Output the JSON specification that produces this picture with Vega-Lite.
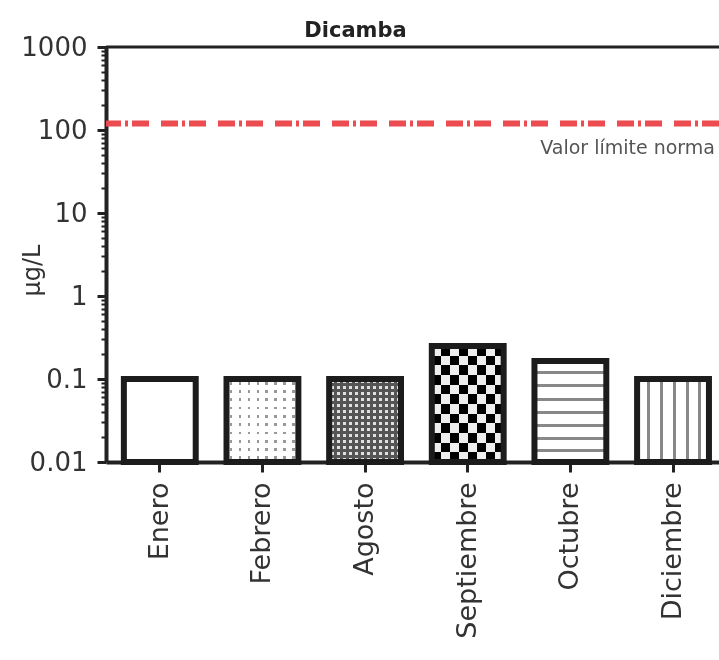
{
  "$schema": "https://vega.github.io/schema/vega-lite/v6.json",
  "width": 613,
  "height": 415,
  "autosize": {"type": "none"},
  "padding": {"left": 106, "top": 47, "right": 0, "bottom": 198},
  "background": "white",
  "config": {"view": {"stroke": null}},
  "title": {"text": "Dicamba", "font": "DejaVu Sans", "fontSize": 21, "fontWeight": "bold", "color": "#222", "anchor": "middle", "dx": -57, "offset": -7},
  "layer": [
    {
      "data": {"values": [
        {"mes": "Enero", "valor": 0.1},
        {"mes": "Febrero", "valor": 0.1},
        {"mes": "Agosto", "valor": 0.1},
        {"mes": "Septiembre", "valor": 0.25},
        {"mes": "Octubre", "valor": 0.165},
        {"mes": "Diciembre", "valor": 0.1}
      ]},
      "encoding": {
        "x": {"field": "mes", "type": "nominal", "sort": ["Enero", "Febrero", "Agosto", "Septiembre", "Octubre", "Diciembre"], "title": null,
          "scale": {"paddingInner": 0.3, "paddingOuter": 0.136, "align": 0.64},
          "axis": {"labelAngle": -90, "labelFont": "DejaVu Sans", "labelFontSize": 27, "labelColor": "#333", "labelPadding": 10, "tickSize": 10, "tickWidth": 3, "tickColor": "#222", "domainWidth": 4, "domainColor": "#222", "grid": false}},
        "y": {"field": "valor", "type": "quantitative", "title": "µg/L",
          "scale": {"type": "log", "domain": [0.01, 1000], "nice": false},
          "axis": {"tickCount": 50, "grid": false, "labelOverlap": false, "labelBound": false, "labelFlush": false,
            "labelExpr": "abs(log(datum.value)/LN10 - round(log(datum.value)/LN10)) < 0.000001 ? format(datum.value, '~g') : ''",
            "labelFont": "DejaVu Sans", "labelFontSize": 26, "labelColor": "#333", "labelPadding": 10,
            "tickSize": {"condition": {"test": "abs(log(datum.value)/LN10 - round(log(datum.value)/LN10)) < 0.000001", "value": 9}, "value": 5},
            "tickWidth": {"condition": {"test": "abs(log(datum.value)/LN10 - round(log(datum.value)/LN10)) < 0.000001", "value": 3}, "value": 2},
            "tickColor": "#222", "domainWidth": 4, "domainColor": "#222",
            "titleFont": "DejaVu Sans", "titleFontSize": 24, "titleFontWeight": "normal", "titleColor": "#333",
            "titleX": -74, "titleY": 223, "titleAngle": -90, "titleAlign": "center", "titleBaseline": "middle"}},
        "y2": {"datum": 0.01}
      },
      "layer": [
        {"mark": {"type": "bar", "fill": "white"}},
        {"transform": [{"filter": "datum.mes === 'Febrero'"}],
         "mark": {"type": "bar", "fill": {"gradient": "linear", "x1": 0, "y1": 0, "x2": 1, "y2": 0, "stops": [
           {"offset": 0, "color": "#fff"},
           {"offset": 0.0425, "color": "#fff"}, {"offset": 0.0425, "color": "#999"}, {"offset": 0.0825, "color": "#999"}, {"offset": 0.0825, "color": "#fff"},
           {"offset": 0.1675, "color": "#fff"}, {"offset": 0.1675, "color": "#999"}, {"offset": 0.2075, "color": "#999"}, {"offset": 0.2075, "color": "#fff"},
           {"offset": 0.2925, "color": "#fff"}, {"offset": 0.2925, "color": "#999"}, {"offset": 0.3325, "color": "#999"}, {"offset": 0.3325, "color": "#fff"},
           {"offset": 0.4175, "color": "#fff"}, {"offset": 0.4175, "color": "#999"}, {"offset": 0.4575, "color": "#999"}, {"offset": 0.4575, "color": "#fff"},
           {"offset": 0.5425, "color": "#fff"}, {"offset": 0.5425, "color": "#999"}, {"offset": 0.5825, "color": "#999"}, {"offset": 0.5825, "color": "#fff"},
           {"offset": 0.6675, "color": "#fff"}, {"offset": 0.6675, "color": "#999"}, {"offset": 0.7075, "color": "#999"}, {"offset": 0.7075, "color": "#fff"},
           {"offset": 0.7925, "color": "#fff"}, {"offset": 0.7925, "color": "#999"}, {"offset": 0.8325, "color": "#999"}, {"offset": 0.8325, "color": "#fff"},
           {"offset": 0.9175, "color": "#fff"}, {"offset": 0.9175, "color": "#999"}, {"offset": 0.9575, "color": "#999"}, {"offset": 0.9575, "color": "#fff"},
           {"offset": 1, "color": "#fff"}]}}},
        {"transform": [{"filter": "datum.mes === 'Febrero'"}],
         "mark": {"type": "bar", "blend": "lighten", "fill": {"gradient": "linear", "x1": 0, "y1": 0, "x2": 0, "y2": 1, "stops": [
           {"offset": 0, "color": "#fff"},
           {"offset": 0.033, "color": "#fff"}, {"offset": 0.033, "color": "#999"}, {"offset": 0.067, "color": "#999"}, {"offset": 0.067, "color": "#fff"},
           {"offset": 0.133, "color": "#fff"}, {"offset": 0.133, "color": "#999"}, {"offset": 0.167, "color": "#999"}, {"offset": 0.167, "color": "#fff"},
           {"offset": 0.233, "color": "#fff"}, {"offset": 0.233, "color": "#999"}, {"offset": 0.267, "color": "#999"}, {"offset": 0.267, "color": "#fff"},
           {"offset": 0.333, "color": "#fff"}, {"offset": 0.333, "color": "#999"}, {"offset": 0.367, "color": "#999"}, {"offset": 0.367, "color": "#fff"},
           {"offset": 0.433, "color": "#fff"}, {"offset": 0.433, "color": "#999"}, {"offset": 0.467, "color": "#999"}, {"offset": 0.467, "color": "#fff"},
           {"offset": 0.533, "color": "#fff"}, {"offset": 0.533, "color": "#999"}, {"offset": 0.567, "color": "#999"}, {"offset": 0.567, "color": "#fff"},
           {"offset": 0.633, "color": "#fff"}, {"offset": 0.633, "color": "#999"}, {"offset": 0.667, "color": "#999"}, {"offset": 0.667, "color": "#fff"},
           {"offset": 0.733, "color": "#fff"}, {"offset": 0.733, "color": "#999"}, {"offset": 0.767, "color": "#999"}, {"offset": 0.767, "color": "#fff"},
           {"offset": 0.833, "color": "#fff"}, {"offset": 0.833, "color": "#999"}, {"offset": 0.867, "color": "#999"}, {"offset": 0.867, "color": "#fff"},
           {"offset": 0.933, "color": "#fff"}, {"offset": 0.933, "color": "#999"}, {"offset": 0.967, "color": "#999"}, {"offset": 0.967, "color": "#fff"},
           {"offset": 1, "color": "#fff"}]}}},
        {"transform": [{"filter": "datum.mes === 'Agosto'"}],
         "mark": {"type": "bar", "fill": {"gradient": "linear", "x1": 0, "y1": 0, "x2": 1, "y2": 0, "stops": [
           {"offset": 0, "color": "#555"},
           {"offset": 0.0208, "color": "#555"}, {"offset": 0.0208, "color": "#e0e0e0"}, {"offset": 0.0625, "color": "#e0e0e0"}, {"offset": 0.0625, "color": "#555"},
           {"offset": 0.1042, "color": "#555"}, {"offset": 0.1042, "color": "#e0e0e0"}, {"offset": 0.1458, "color": "#e0e0e0"}, {"offset": 0.1458, "color": "#555"},
           {"offset": 0.1875, "color": "#555"}, {"offset": 0.1875, "color": "#e0e0e0"}, {"offset": 0.2292, "color": "#e0e0e0"}, {"offset": 0.2292, "color": "#555"},
           {"offset": 0.2708, "color": "#555"}, {"offset": 0.2708, "color": "#e0e0e0"}, {"offset": 0.3125, "color": "#e0e0e0"}, {"offset": 0.3125, "color": "#555"},
           {"offset": 0.3542, "color": "#555"}, {"offset": 0.3542, "color": "#e0e0e0"}, {"offset": 0.3958, "color": "#e0e0e0"}, {"offset": 0.3958, "color": "#555"},
           {"offset": 0.4375, "color": "#555"}, {"offset": 0.4375, "color": "#e0e0e0"}, {"offset": 0.4792, "color": "#e0e0e0"}, {"offset": 0.4792, "color": "#555"},
           {"offset": 0.5208, "color": "#555"}, {"offset": 0.5208, "color": "#e0e0e0"}, {"offset": 0.5625, "color": "#e0e0e0"}, {"offset": 0.5625, "color": "#555"},
           {"offset": 0.6042, "color": "#555"}, {"offset": 0.6042, "color": "#e0e0e0"}, {"offset": 0.6458, "color": "#e0e0e0"}, {"offset": 0.6458, "color": "#555"},
           {"offset": 0.6875, "color": "#555"}, {"offset": 0.6875, "color": "#e0e0e0"}, {"offset": 0.7292, "color": "#e0e0e0"}, {"offset": 0.7292, "color": "#555"},
           {"offset": 0.7708, "color": "#555"}, {"offset": 0.7708, "color": "#e0e0e0"}, {"offset": 0.8125, "color": "#e0e0e0"}, {"offset": 0.8125, "color": "#555"},
           {"offset": 0.8542, "color": "#555"}, {"offset": 0.8542, "color": "#e0e0e0"}, {"offset": 0.8958, "color": "#e0e0e0"}, {"offset": 0.8958, "color": "#555"},
           {"offset": 0.9375, "color": "#555"}, {"offset": 0.9375, "color": "#e0e0e0"}, {"offset": 0.9792, "color": "#e0e0e0"}, {"offset": 0.9792, "color": "#555"},
           {"offset": 1, "color": "#555"}]}}},
        {"transform": [{"filter": "datum.mes === 'Agosto'"}],
         "mark": {"type": "bar", "blend": "darken", "fill": {"gradient": "linear", "x1": 0, "y1": 0, "x2": 0, "y2": 1, "stops": [
           {"offset": 0, "color": "#555"},
           {"offset": 0.0179, "color": "#555"}, {"offset": 0.0179, "color": "#e0e0e0"}, {"offset": 0.0536, "color": "#e0e0e0"}, {"offset": 0.0536, "color": "#555"},
           {"offset": 0.0893, "color": "#555"}, {"offset": 0.0893, "color": "#e0e0e0"}, {"offset": 0.125, "color": "#e0e0e0"}, {"offset": 0.125, "color": "#555"},
           {"offset": 0.1607, "color": "#555"}, {"offset": 0.1607, "color": "#e0e0e0"}, {"offset": 0.1964, "color": "#e0e0e0"}, {"offset": 0.1964, "color": "#555"},
           {"offset": 0.2321, "color": "#555"}, {"offset": 0.2321, "color": "#e0e0e0"}, {"offset": 0.2679, "color": "#e0e0e0"}, {"offset": 0.2679, "color": "#555"},
           {"offset": 0.3036, "color": "#555"}, {"offset": 0.3036, "color": "#e0e0e0"}, {"offset": 0.3393, "color": "#e0e0e0"}, {"offset": 0.3393, "color": "#555"},
           {"offset": 0.375, "color": "#555"}, {"offset": 0.375, "color": "#e0e0e0"}, {"offset": 0.4107, "color": "#e0e0e0"}, {"offset": 0.4107, "color": "#555"},
           {"offset": 0.4464, "color": "#555"}, {"offset": 0.4464, "color": "#e0e0e0"}, {"offset": 0.4821, "color": "#e0e0e0"}, {"offset": 0.4821, "color": "#555"},
           {"offset": 0.5179, "color": "#555"}, {"offset": 0.5179, "color": "#e0e0e0"}, {"offset": 0.5536, "color": "#e0e0e0"}, {"offset": 0.5536, "color": "#555"},
           {"offset": 0.5893, "color": "#555"}, {"offset": 0.5893, "color": "#e0e0e0"}, {"offset": 0.625, "color": "#e0e0e0"}, {"offset": 0.625, "color": "#555"},
           {"offset": 0.6607, "color": "#555"}, {"offset": 0.6607, "color": "#e0e0e0"}, {"offset": 0.6964, "color": "#e0e0e0"}, {"offset": 0.6964, "color": "#555"},
           {"offset": 0.7321, "color": "#555"}, {"offset": 0.7321, "color": "#e0e0e0"}, {"offset": 0.7679, "color": "#e0e0e0"}, {"offset": 0.7679, "color": "#555"},
           {"offset": 0.8036, "color": "#555"}, {"offset": 0.8036, "color": "#e0e0e0"}, {"offset": 0.8393, "color": "#e0e0e0"}, {"offset": 0.8393, "color": "#555"},
           {"offset": 0.875, "color": "#555"}, {"offset": 0.875, "color": "#e0e0e0"}, {"offset": 0.9107, "color": "#e0e0e0"}, {"offset": 0.9107, "color": "#555"},
           {"offset": 0.9464, "color": "#555"}, {"offset": 0.9464, "color": "#e0e0e0"}, {"offset": 0.9821, "color": "#e0e0e0"}, {"offset": 0.9821, "color": "#555"},
           {"offset": 1, "color": "#555"}]}}},
        {"transform": [{"filter": "datum.mes === 'Septiembre'"}],
         "mark": {"type": "bar", "fill": {"gradient": "linear", "x1": 0, "y1": 0, "x2": 1, "y2": 0, "stops": [
           {"offset": 0, "color": "#111"}, {"offset": 0.125, "color": "#111"}, {"offset": 0.125, "color": "#fff"}, {"offset": 0.25, "color": "#fff"},
           {"offset": 0.25, "color": "#111"}, {"offset": 0.375, "color": "#111"}, {"offset": 0.375, "color": "#fff"}, {"offset": 0.5, "color": "#fff"},
           {"offset": 0.5, "color": "#111"}, {"offset": 0.625, "color": "#111"}, {"offset": 0.625, "color": "#fff"}, {"offset": 0.75, "color": "#fff"},
           {"offset": 0.75, "color": "#111"}, {"offset": 0.875, "color": "#111"}, {"offset": 0.875, "color": "#fff"}, {"offset": 1, "color": "#fff"}]}}},
        {"transform": [{"filter": "datum.mes === 'Septiembre'"}],
         "mark": {"type": "bar", "blend": "difference", "fill": {"gradient": "linear", "x1": 0, "y1": 0, "x2": 0, "y2": 1, "stops": [
           {"offset": 0, "color": "#fff"}, {"offset": 0.0833, "color": "#fff"}, {"offset": 0.0833, "color": "#111"}, {"offset": 0.1667, "color": "#111"},
           {"offset": 0.1667, "color": "#fff"}, {"offset": 0.25, "color": "#fff"}, {"offset": 0.25, "color": "#111"}, {"offset": 0.3333, "color": "#111"},
           {"offset": 0.3333, "color": "#fff"}, {"offset": 0.4167, "color": "#fff"}, {"offset": 0.4167, "color": "#111"}, {"offset": 0.5, "color": "#111"},
           {"offset": 0.5, "color": "#fff"}, {"offset": 0.5833, "color": "#fff"}, {"offset": 0.5833, "color": "#111"}, {"offset": 0.6667, "color": "#111"},
           {"offset": 0.6667, "color": "#fff"}, {"offset": 0.75, "color": "#fff"}, {"offset": 0.75, "color": "#111"}, {"offset": 0.8333, "color": "#111"},
           {"offset": 0.8333, "color": "#fff"}, {"offset": 0.9167, "color": "#fff"}, {"offset": 0.9167, "color": "#111"}, {"offset": 1, "color": "#111"}]}}},
        {"transform": [{"filter": "datum.mes === 'Octubre'"}],
         "mark": {"type": "bar", "fill": {"gradient": "linear", "x1": 0, "y1": 0, "x2": 0, "y2": 1, "stops": [
           {"offset": 0, "color": "#fff"},
           {"offset": 0.095, "color": "#fff"}, {"offset": 0.095, "color": "#888"}, {"offset": 0.125, "color": "#888"}, {"offset": 0.125, "color": "#fff"},
           {"offset": 0.23, "color": "#fff"}, {"offset": 0.23, "color": "#888"}, {"offset": 0.26, "color": "#888"}, {"offset": 0.26, "color": "#fff"},
           {"offset": 0.365, "color": "#fff"}, {"offset": 0.365, "color": "#888"}, {"offset": 0.395, "color": "#888"}, {"offset": 0.395, "color": "#fff"},
           {"offset": 0.495, "color": "#fff"}, {"offset": 0.495, "color": "#888"}, {"offset": 0.525, "color": "#888"}, {"offset": 0.525, "color": "#fff"},
           {"offset": 0.625, "color": "#fff"}, {"offset": 0.625, "color": "#888"}, {"offset": 0.655, "color": "#888"}, {"offset": 0.655, "color": "#fff"},
           {"offset": 0.755, "color": "#fff"}, {"offset": 0.755, "color": "#888"}, {"offset": 0.785, "color": "#888"}, {"offset": 0.785, "color": "#fff"},
           {"offset": 0.875, "color": "#fff"}, {"offset": 0.875, "color": "#888"}, {"offset": 0.905, "color": "#888"}, {"offset": 0.905, "color": "#fff"},
           {"offset": 1, "color": "#fff"}]}}},
        {"transform": [{"filter": "datum.mes === 'Diciembre'"}],
         "mark": {"type": "bar", "fill": {"gradient": "linear", "x1": 0, "y1": 0, "x2": 1, "y2": 0, "stops": [
           {"offset": 0, "color": "#fff"},
           {"offset": 0.14, "color": "#fff"}, {"offset": 0.14, "color": "#888"}, {"offset": 0.18, "color": "#888"}, {"offset": 0.18, "color": "#fff"},
           {"offset": 0.32, "color": "#fff"}, {"offset": 0.32, "color": "#888"}, {"offset": 0.36, "color": "#888"}, {"offset": 0.36, "color": "#fff"},
           {"offset": 0.5, "color": "#fff"}, {"offset": 0.5, "color": "#888"}, {"offset": 0.54, "color": "#888"}, {"offset": 0.54, "color": "#fff"},
           {"offset": 0.68, "color": "#fff"}, {"offset": 0.68, "color": "#888"}, {"offset": 0.72, "color": "#888"}, {"offset": 0.72, "color": "#fff"},
           {"offset": 0.85, "color": "#fff"}, {"offset": 0.85, "color": "#888"}, {"offset": 0.89, "color": "#888"}, {"offset": 0.89, "color": "#fff"},
           {"offset": 1, "color": "#fff"}]}}},
        {"mark": {"type": "bar", "fill": "white", "fillOpacity": 0, "stroke": "#1c1c1c", "strokeWidth": 6}}
      ]
    },
    {
      "data": {"values": [{"valor": 1000}]},
      "mark": {"type": "rule", "stroke": "#222", "strokeWidth": 3},
      "encoding": {"y": {"field": "valor", "type": "quantitative"}}
    },
    {
      "data": {"values": [{"valor": 120, "etiqueta": "Valor límite norma"}]},
      "layer": [
        {"mark": {"type": "rule", "stroke": "#ec4b4f", "strokeWidth": 6, "strokeDash": [17, 4, 3, 4, 17, 12]},
         "encoding": {"y": {"field": "valor", "type": "quantitative"}}},
        {"mark": {"type": "text", "x": "width", "align": "right", "baseline": "top", "dx": -4, "dy": 16, "font": "DejaVu Sans", "fontSize": 19, "color": "#555"},
         "encoding": {"y": {"field": "valor", "type": "quantitative"}, "text": {"field": "etiqueta"}}}
      ]
    }
  ]
}
